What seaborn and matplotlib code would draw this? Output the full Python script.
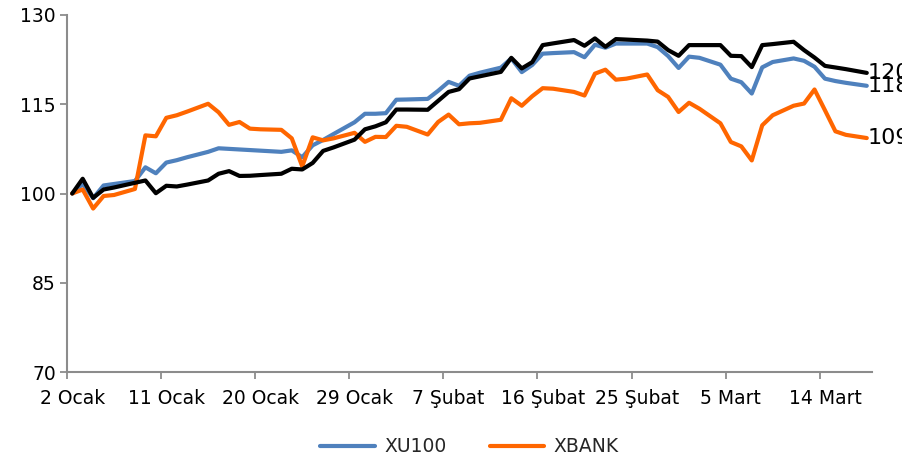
import matplotlib
matplotlib.use("Agg")
import matplotlib.pyplot as plt
import matplotlib.dates as mdates
import numpy as np
import pandas as pd
import seaborn as sns

# ---------------- data ----------------
all_days = pd.date_range("2012-01-02", "2012-03-18", freq="D")
dates = all_days[all_days.dayofweek != 5]

xu100 = [100.0, 101.6, 99.2, 101.35, 101.6, 102.1, 104.4, 103.4, 105.2, 105.6,
         106.1, 107.0, 107.6, 107.5, 107.4, 107.3, 107.2, 107.0, 107.25, 106.1,
         108.1, 109.0, 110.0, 111.97, 113.4, 113.4, 113.5, 115.76, 115.8, 115.9,
         117.26, 118.76, 118.1, 119.8, 120.3, 121.15, 122.7, 120.4, 121.6, 123.5,
         123.6, 123.76, 122.9, 125.0, 124.5, 125.2, 125.2, 125.2, 124.6, 123.1,
         121.1, 123.0, 122.8, 121.65, 119.3, 118.7, 116.8, 121.2, 122.1, 122.7,
         122.3, 121.3, 119.3, 118.9, 118.6, 118.1]

xbank = [100.0, 100.67, 97.47, 99.58, 99.75, 100.76, 109.77, 109.61, 112.72, 113.15,
         113.77, 115.08, 113.65, 111.54, 112.02, 110.9, 110.79, 110.7, 109.27, 104.55,
         109.44, 108.93, 109.27, 110.2, 108.68, 109.52, 109.49, 111.38, 111.21, 109.91,
         112.02, 113.26, 111.63, 111.8, 111.88, 112.39, 116.01, 114.75, 116.35, 117.7,
         117.61, 117.07, 116.47, 120.14, 120.81, 119.13, 119.3, 120.0, 117.36, 116.23,
         113.7, 115.25, 114.24, 111.8, 108.65, 107.92, 105.56, 111.46, 113.15, 114.75,
         115.12, 117.48, 113.99, 110.45, 109.86, 109.32]

seri3 = [100.0, 102.48, 99.27, 100.67, 101.01, 101.80, 102.19, 100.05, 101.30, 101.18,
         101.50, 102.19, 103.32, 103.76, 102.95, 102.98, 103.10, 103.32, 104.16, 104.04,
         105.14, 107.16, 107.75, 109.05, 110.79, 111.29, 111.97, 114.11, 114.11, 114.07,
         115.57, 117.07, 117.53, 119.33, 119.70, 120.44, 122.80, 121.02, 122.08, 124.94,
         125.23, 125.79, 124.83, 126.07, 124.66, 125.95, 125.87, 125.70, 125.53, 124.10,
         123.14, 124.94, 124.94, 124.94, 123.14, 123.09, 121.24, 124.94, 125.11, 125.50,
         124.10, 122.85, 121.45, 121.18, 120.90, 120.27]

tick_dates = pd.date_range("2012-01-02", periods=9, freq="9D")
tick_labels = ["2 Ocak", "11 Ocak", "20 Ocak", "29 Ocak", "7 Şubat",
               "16 Şubat", "25 Şubat", "5 Mart", "14 Mart"]
y_ticks = [70, 85, 100, 115, 130]

# ---------------- plot ----------------
sns.set_theme(style="ticks")
plt.rcParams["font.family"] = ["DejaVu Sans"]

fig = plt.figure(figsize=(9.03, 4.62), dpi=100)
ax = fig.add_axes([67 / 903, 1 - 372 / 462, (872 - 67) / 903, (372 - 15) / 462])

x = dates + pd.Timedelta(hours=12)
series = [("XU100", xu100, "#4F81BD"),
          ("XBANK", xbank, "#FF6600"),
          ("Seri 3", seri3, "#000000")]
handles = {}
for name, vals, color in series:
    sns.lineplot(x=x, y=vals, ax=ax, color=color, linewidth=3.0,
                 label=name, legend=False)
    handles[name] = ax.get_lines()[-1]
    handles[name].set_solid_joinstyle("round")
    handles[name].set_solid_capstyle("round")
    ax.annotate(f"{vals[-1]:.0f}", xy=(mdates.date2num(x[-1]), vals[-1]),
                xytext=(0.5, 0), textcoords="offset points", ha="left",
                va="center", fontsize=16, color="black", annotation_clip=False)

ax.set_ylim(70, 130)
ax.set_yticks(y_ticks)
ax.set_xlim(mdates.date2num(pd.Timestamp("2012-01-02")),
            mdates.date2num(pd.Timestamp("2012-03-19")))
ax.set_xticks(mdates.date2num(tick_dates))
ax.set_xticklabels([""] * len(tick_dates))
ax.set_xticks(mdates.date2num(tick_dates + pd.Timedelta(hours=12)), minor=True)
ax.set_xticklabels(tick_labels, minor=True)
ax.set_xlabel("")
ax.set_ylabel("")

spine_c = "#8c8c8c"
for s in ["top", "right"]:
    ax.spines[s].set_visible(False)
for s in ["left", "bottom"]:
    ax.spines[s].set_color(spine_c)
    ax.spines[s].set_linewidth(1.5)
ax.tick_params(axis="x", which="major", length=5, width=1.3, color=spine_c,
               direction="out")
ax.tick_params(axis="x", which="minor", length=0, pad=12, labelsize=13.5,
               labelcolor="black")
ax.tick_params(axis="y", length=5, width=1.3, color=spine_c, pad=3,
               labelsize=13.5, labelcolor="black")
ax.grid(False)

fig.legend(handles=[handles["XU100"], handles["XBANK"]], labels=["XU100", "XBANK"],
           loc="center", bbox_to_anchor=(469.5 / 903, 1 - 447 / 462), ncol=2,
           frameon=False, fontsize=13.5, handlelength=2.9, handletextpad=0.5,
           columnspacing=2.3)

fig.savefig("out.png", dpi=100)
